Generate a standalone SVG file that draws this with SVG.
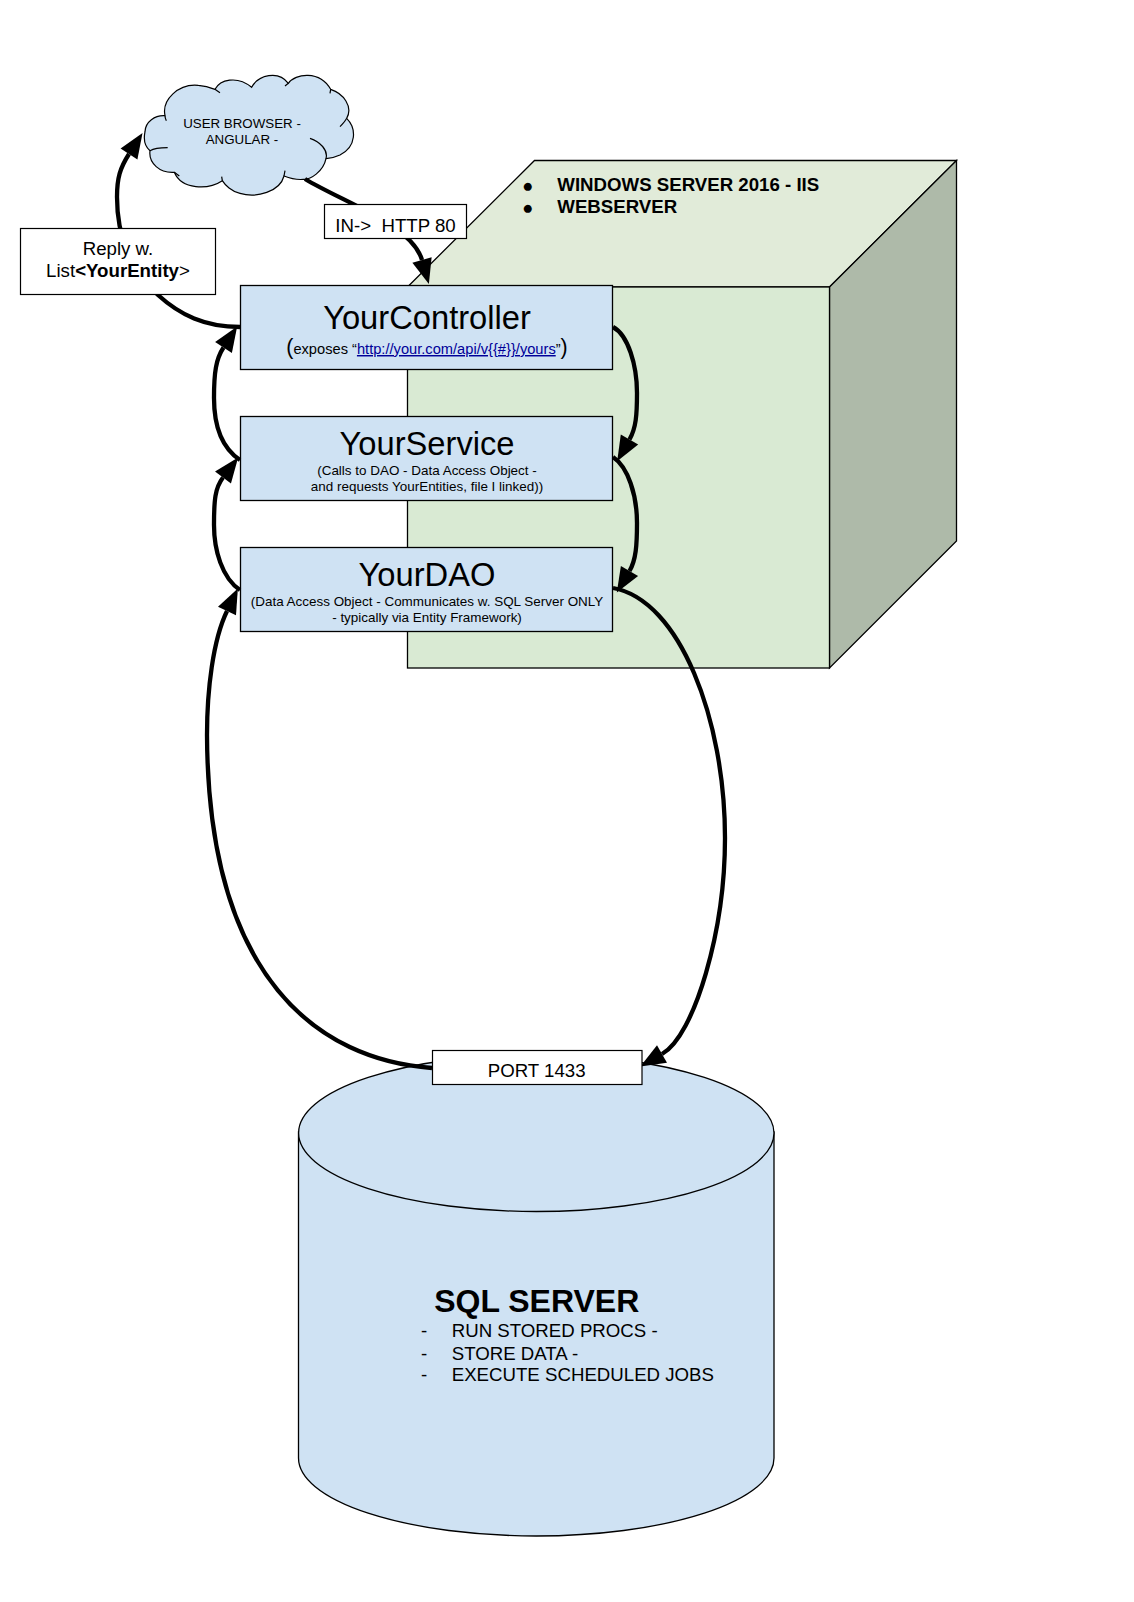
<svg xmlns="http://www.w3.org/2000/svg" width="1134" height="1602" viewBox="0 0 1134 1602">
<style>
text{font-family:"Liberation Sans",Arial,sans-serif;fill:#000}
.m{text-anchor:middle}
.t32{font-size:32.7px}.t19{font-size:18.67px}.t13{font-size:13.45px}.t15{font-size:14.67px}
.b{font-weight:bold}
.ln{stroke:#000;stroke-width:1.3}
.blue{fill:#cfe2f3}
.box{fill:#fff;stroke:#000;stroke-width:1.2}
.c{fill:none;stroke:#000;stroke-width:4.3;marker-end:url(#head)}
</style>
<defs><marker id="head" markerUnits="userSpaceOnUse" markerWidth="26" markerHeight="22" refX="0" refY="10" orient="auto" overflow="visible"><path d="M0,0 L25,10 L0,20 Z" fill="#000"/></marker></defs>
<rect width="1134" height="1602" fill="#fff"/>
<g id="webserver-cube">
<polygon class="ln" points="407.5,287 534.5,160.5 956.5,160.5 829.5,287" fill="#e1ebd9"/>
<polygon class="ln" points="829.5,287 956.5,160.5 956.5,541 829.5,668" fill="#aebaa9"/>
<rect class="ln" x="407.5" y="287" width="422" height="381" fill="#d9ead3"/>
<text class="t19" x="522" y="191.5">●</text><text class="t19 b" x="557.3" y="191">WINDOWS SERVER 2016 - IIS</text>
<text class="t19" x="522" y="213.5">●</text><text class="t19 b" x="557.3" y="212.5">WEBSERVER</text>
</g>
<g id="cloud">
<g transform="translate(0,50) scale(.33333)" fill="none" stroke="#000" stroke-width="3.6">
<path class="blue" d="M435,245 C436,215 465,195 495,197 C485,150 535,100 595,106 C610,107 630,112 645,118 C660,90 710,75 755,112 C775,75 835,60 865,100 C885,70 960,60 992,118 C1030,130 1060,170 1040,205 C1070,235 1070,290 1020,315 C1005,322 990,325 978,326 C970,365 930,390 910,388 C890,390 870,385 852,378 C840,425 770,445 720,430 C695,425 675,405 667,392 C625,420 545,420 523,367 C480,370 445,340 450,302 C435,290 430,270 435,245 Z"/>
<path d="M495,197 C495,203 497,208 499,212 M645,118 C650,122 655,125 660,128 M865,100 L855,108 M992,118 L990,130 M1040,205 C1035,215 1028,222 1020,230 M978,326 C985,300 960,275 930,265 M852,378 L855,362 M667,392 L665,380 M523,367 L538,378 M450,302 C465,293 485,293 503,293"/>
</g>
<text class="m" style="font-size:13.33px" x="242" y="128.3">USER BROWSER -</text>
<text class="m" style="font-size:13.33px" x="242" y="144.3">ANGULAR -</text>
</g>
<g id="your-controller">
<rect class="ln blue" x="240.5" y="285.5" width="372" height="84"/>
<text class="t32 m" x="427" y="328.6">YourController</text>
<text class="t15 m" x="427" y="354"><tspan style="font-size:21.33px">(</tspan>exposes “<tspan fill="#000099" style="fill:#000099;text-decoration:underline">http://your.com/api/v{{#}}/yours</tspan>”<tspan style="font-size:21.33px">)</tspan></text>
</g>
<g id="your-service">
<rect class="ln blue" x="240.5" y="416.5" width="372" height="84"/>
<text class="t32 m" x="427" y="454.6">YourService</text>
<text class="t13 m" x="427" y="475">(Calls to DAO - Data Access Object -</text>
<text class="t13 m" x="427" y="491">and requests YourEntities, file I linked))</text>
</g>
<g id="your-dao">
<rect class="ln blue" x="240.5" y="547.5" width="372" height="84"/>
<text class="t32 m" x="427" y="585.6">YourDAO</text>
<text class="t13 m" x="427" y="605.7">(Data Access Object - Communicates w. SQL Server ONLY</text>
<text class="t13 m" x="427" y="621.7">- typically via Entity Framework)</text>
</g>
<g id="sql-server">
<path class="ln blue" d="M298.5,1132 V1458 A237.7,78 0 0 0 774,1458 V1132 Z"/>
<ellipse class="ln blue" cx="536.3" cy="1133" rx="237.7" ry="78.5"/>
<text class="b m" style="font-size:32px" x="536.7" y="1311.7">SQL SERVER</text>
<text class="t19" x="421" y="1337.3">-</text><text class="t19" x="451.7" y="1337.3">RUN STORED PROCS -</text>
<text class="t19" x="421" y="1359.5">-</text><text class="t19" x="451.7" y="1359.5">STORE DATA -</text>
<text class="t19" x="421" y="1381.3">-</text><text class="t19" x="451.7" y="1381.3">EXECUTE SCHEDULED JOBS</text>
</g>
<g id="connectors">
<path class="c" d="M240,327 C205,327 180,315 158,295 C130,270 117,235 117,197 C117,178 120,168 129,154"/>
<path class="c" d="M305,179 C345,203 412,225 422,260"/>
<path class="c" d="M240,460 C222,448 214,425 214,398 C214,372 216,359 223.5,347.5"/>
<path class="c" d="M240,590 C222,578 214,550 214,525 C214,500 215,488 223,477.5"/>
<path class="c" d="M432,1068 C320,1060 208,980 207,735 C207,690 213,640 227,611"/>
<path class="c" d="M613,327 C628,335 637,365 637,393 C637,415 636,428 629.5,439.5"/>
<path class="c" d="M613,457 C628,467 637,495 637,523 C637,545 636,560 629.5,571"/>
<path class="c" d="M613,588 C680,600 725,720 725,838 C725,930 695,1035 662,1054"/>
</g>
<g id="label-reply">
<rect class="box" x="20.5" y="228.5" width="195" height="66"/>
<text class="t19 m" x="118" y="255">Reply w.</text>
<text class="t19 m" x="118" y="277">List<tspan class="b">&lt;YourEntity</tspan>&gt;</text>
</g>
<g id="label-http">
<rect class="box" x="324.5" y="204.5" width="142" height="34"/>
<text class="t19" x="335.3" y="231.5" xml:space="preserve">IN-&gt;  HTTP 80</text>
</g>
<g id="label-port">
<rect class="box" x="432.5" y="1050.5" width="209.5" height="34"/>
<text class="t19 m" x="536.7" y="1076.5">PORT 1433</text>
</g>
</svg>
